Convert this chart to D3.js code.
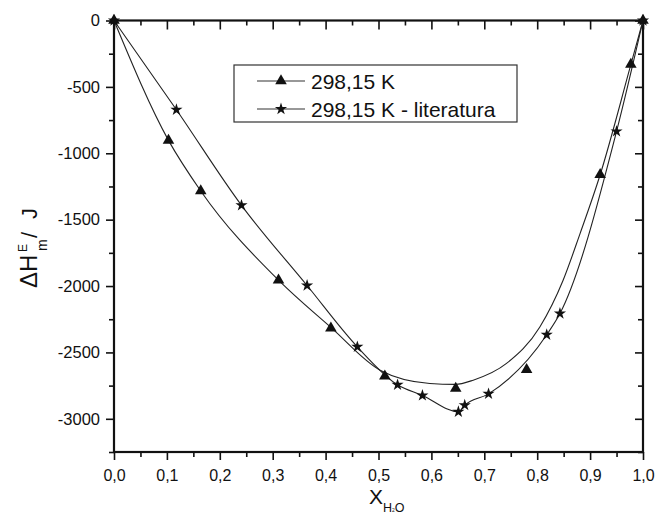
<!DOCTYPE html>
<html><head><meta charset="utf-8">
<script src="https://cdn.jsdelivr.net/npm/d3@7"></script>
<style>
body{margin:0;background:#fff}
svg{display:block}
text{font-family:"Liberation Sans",Arial,sans-serif;fill:#111}
</style>
</head><body>
<svg id="c" width="659" height="516"></svg>
<script>
// ---- data ----
const xTicks = [0,0.1,0.2,0.3,0.4,0.5,0.6,0.7,0.8,0.9,1.0];
const xTickLabels = ["0,0","0,1","0,2","0,3","0,4","0,5","0,6","0,7","0,8","0,9","1,0"];
const xMinorTicks = [0.05,0.15,0.25,0.35,0.45,0.55,0.65,0.75,0.85,0.95];
const yTicks = [0,-500,-1000,-1500,-2000,-2500,-3000];
const yTickLabels = ["0","-500","-1000","-1500","-2000","-2500","-3000"];
const yMinorTicks = [-250,-750,-1250,-1750,-2250,-2750,-3250];

// series 1: 298,15 K (triangles)
const triX = [0,0.103,0.164,0.311,0.410,0.512,0.646,0.780,0.919,0.977,1.0];
const triY = [0,-903,-1284,-1956,-2318,-2679,-2771,-2630,-1162,-330,0];
// smooth fitted curve drawn for series 1
const fitX = [0,0.103,0.164,0.311,0.410,0.503,0.597,0.645,0.679,0.742,0.805,0.849,0.881,0.919,0.977,1.0];
const fitY = [0,-903,-1284,-1956,-2312,-2634,-2734,-2741,-2709,-2583,-2308,-1956,-1605,-1162,-333,0];

// series 2: 298,15 K - literatura (stars)
const starX = [0,0.118,0.241,0.365,0.460,0.536,0.583,0.651,0.663,0.708,0.818,0.843,0.950,1.0];
const starY = [0,-672,-1392,-1996,-2458,-2744,-2824,-2947,-2897,-2812,-2367,-2207,-835,0];

const legendLabels = ["298,15 K","298,15 K - literatura"];

// ---- drawing ----
const svg = d3.select("#c");
const L = 114, R = 643, T = 20.5, B = 452;
const x = d3.scaleLinear().domain([0,1]).range([L,R]);
const y = d3.scaleLinear().domain([-3250,0]).range([B,T]);

function styleAxis(g){
  g.select(".domain").remove();
  g.selectAll(".tick line").attr("stroke","#111").attr("stroke-width",1.6);
}

// bottom axis
const gb = svg.append("g").attr("transform",`translate(0,${B})`);
gb.call(d3.axisBottom(x).tickValues(xTicks).tickSize(8).tickFormat((d,i)=>xTickLabels[i]));
styleAxis(gb);
gb.selectAll(".tick text").attr("y",29).attr("dy",0).attr("font-size",16).attr("font-family","Liberation Sans, Arial, sans-serif");
const gbm = svg.append("g").attr("transform",`translate(0,${B})`);
gbm.call(d3.axisBottom(x).tickValues(xMinorTicks).tickSize(5).tickFormat(""));
styleAxis(gbm);

// top axis (inward)
const gt = svg.append("g").attr("transform",`translate(0,${T})`);
gt.call(d3.axisTop(x).tickValues(xTicks).tickSize(-9).tickFormat(""));
styleAxis(gt);
const gtm = svg.append("g").attr("transform",`translate(0,${T})`);
gtm.call(d3.axisTop(x).tickValues(xMinorTicks).tickSize(-5).tickFormat(""));
styleAxis(gtm);

// left axis
const gl = svg.append("g").attr("transform",`translate(${L},0)`);
gl.call(d3.axisLeft(y).tickValues(yTicks).tickSize(8).tickPadding(6).tickFormat((d,i)=>yTickLabels[i]));
styleAxis(gl);
gl.selectAll(".tick text").attr("font-size",16.5).attr("font-family","Liberation Sans, Arial, sans-serif");
const glm = svg.append("g").attr("transform",`translate(${L},0)`);
glm.call(d3.axisLeft(y).tickValues(yMinorTicks).tickSize(5).tickFormat(""));
styleAxis(glm);

// right axis (inward)
const gr = svg.append("g").attr("transform",`translate(${R},0)`);
gr.call(d3.axisRight(y).tickValues(yTicks).tickSize(-8).tickFormat(""));
styleAxis(gr);
const grm = svg.append("g").attr("transform",`translate(${R},0)`);
grm.call(d3.axisRight(y).tickValues(yMinorTicks).tickSize(-5).tickFormat(""));
styleAxis(grm);

// frame
svg.append("rect").attr("x",L).attr("y",T).attr("width",R-L).attr("height",B-T)
  .attr("fill","none").attr("stroke","#111").attr("stroke-width",2.2);

// curves
const line = d3.line().x(d=>x(d[0])).y(d=>y(d[1])).curve(d3.curveMonotoneX);
svg.append("path").datum(fitX.map((v,i)=>[v,fitY[i]]))
  .attr("d",line).attr("fill","none").attr("stroke","#222").attr("stroke-width",1.1);
svg.append("path").datum(starX.map((v,i)=>[v,starY[i]]))
  .attr("d",line).attr("fill","none").attr("stroke","#222").attr("stroke-width",1.1);

// markers
const triSym = d3.symbol().type(d3.symbolTriangle).size(58);
const starSym = d3.symbol().type(d3.symbolStar).size(46);
svg.append("g").selectAll("path").data(triX.map((v,i)=>[v,triY[i]])).join("path")
  .attr("d",triSym).attr("transform",d=>`translate(${x(d[0])},${y(d[1])})`).attr("fill","#111");
svg.append("g").selectAll("path").data(starX.map((v,i)=>[v,starY[i]])).join("path")
  .attr("d",starSym).attr("transform",d=>`translate(${x(d[0])},${y(d[1])})`).attr("fill","#111");

// legend
const lg = svg.append("g");
lg.append("rect").attr("x",234).attr("y",65).attr("width",283).attr("height",57)
  .attr("fill","#fff").attr("stroke","#333").attr("stroke-width",1.2);
const rowsY = [81,109];
const syms = [triSym, starSym];
legendLabels.forEach((lab,i)=>{
  lg.append("line").attr("x1",257).attr("x2",305).attr("y1",rowsY[i]).attr("y2",rowsY[i])
    .attr("stroke","#333").attr("stroke-width",1.1);
  lg.append("path").attr("d",syms[i]).attr("transform",`translate(281,${rowsY[i]})`).attr("fill","#111");
  lg.append("text").attr("x",311).attr("y",rowsY[i]+7.5).attr("font-size",21).text(lab);
});

// y title (rotated)
const yt = svg.append("g").attr("transform","translate(37,0) rotate(-90)");
yt.append("text").attr("x",-288).attr("y",0).attr("font-size",24).text("ΔH");
yt.append("text").attr("x",-252).attr("y",-10).attr("font-size",12).text("E");
yt.append("text").attr("x",-251).attr("y",10).attr("font-size",14).text("m");
yt.append("text").attr("x",-238).attr("y",0).attr("font-size",22).text("/");
yt.append("text").attr("x",-219).attr("y",0).attr("font-size",22).text("J");

// x title
const xt = svg.append("text").attr("x",369).attr("y",504).attr("font-size",21);
xt.append("tspan").text("X");
xt.append("tspan").attr("font-size",12.5).attr("dy",8).text("H");
xt.append("tspan").attr("font-size",5).text("2");
xt.append("tspan").attr("font-size",12.5).text("O");
</script>
</body></html>
